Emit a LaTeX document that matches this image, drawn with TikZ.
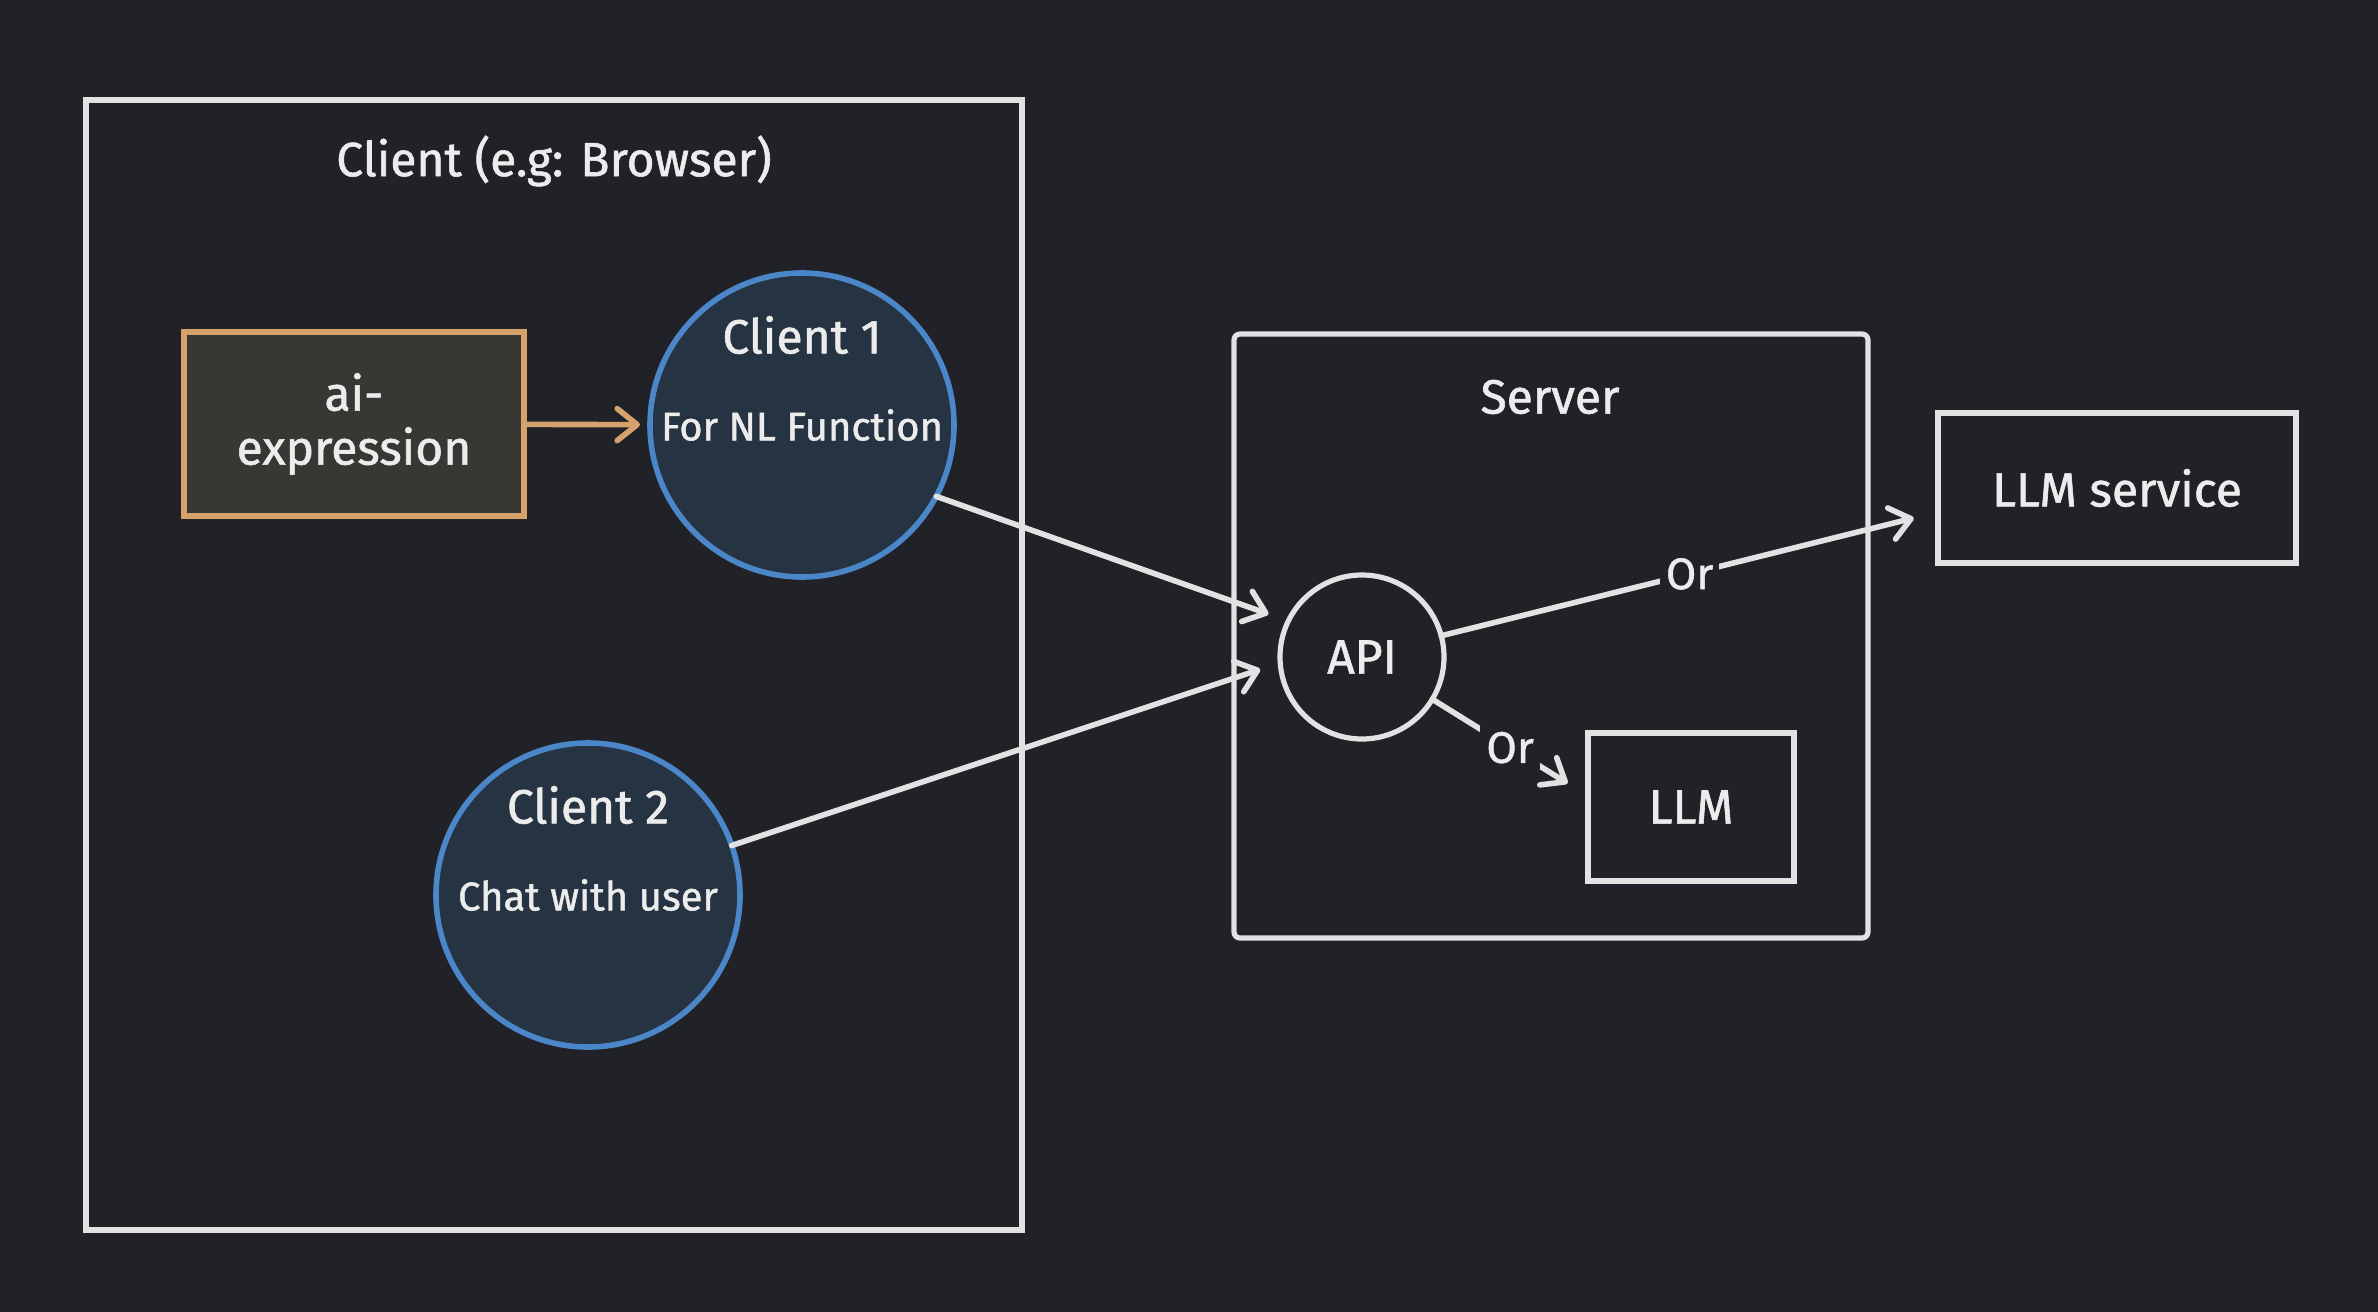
\documentclass[tikz,border=0pt]{standalone}
\usepackage{fontspec}
\setmainfont{Fira Sans}[FakeBold=1.2]
\usepackage{xcolor}
\usepackage{tikz}
\usetikzlibrary{arrows.meta}
\definecolor{bgdark}{RGB}{32,34,39}
\definecolor{linegray}{RGB}{226,226,226}
\definecolor{textgray}{RGB}{236,236,236}
\definecolor{circfill}{RGB}{38,51,66}
\definecolor{circblue}{RGB}{74,134,200}
\definecolor{tanline}{RGB}{212,162,106}
\definecolor{tanfill}{RGB}{57,55,51}

\begin{document}
\begin{tikzpicture}[x=0.5pt, y=-0.5pt,
  frame/.style={draw=linegray, line width=2.6pt, fill=bgdark, inner sep=0pt, outer sep=0pt},
  clientcirc/.style={circle, draw=circblue, line width=2.8pt, fill=circfill, inner sep=0pt, outer sep=0pt,
    minimum size=152pt, text=textgray, font=\fontsize{20}{24}\selectfont},
  lbl/.style={text=textgray, font=\fontsize{24}{27}\selectfont, align=center},
  orlbl/.style={fill=bgdark, text=textgray, font=\fontsize{22}{24}\selectfont, inner sep=3pt},
  flow/.style={draw=linegray, line width=2.8pt, line cap=round,
    -{Straight Barb[length=10pt, width=16pt, round]}}]
% Background
\fill[bgdark] (0,0) rectangle (2378,1312);

% Client side
\node[frame, minimum width=468pt, minimum height=565pt] (clientbox) at (554,665) {};
\node[lbl] (clienttitle) at (554,161) {Client (e.g: Browser)};
\node[frame, draw=tanline, fill=tanfill, minimum width=170pt, minimum height=92pt, lbl] (aiexpr) at (354,424) {ai-\\expression};
\node[clientcirc] (client1) at (802,425) {For NL Function};
\node[lbl] (client1title) at ([yshift=45pt]client1.center) {Client 1};
\node[clientcirc] (client2) at (588,895) {Chat with user};
\node[lbl] (client2title) at ([yshift=45pt]client2.center) {Client 2};

% Server side
\node[frame, rounded corners=3pt, minimum width=317pt, minimum height=302pt] (server) at (1551,636) {};
\node[lbl] (servertitle) at (1550,397) {Server};
\node[frame, circle, minimum size=82pt, lbl] (api) at (1362,657) {API};
\node[frame, minimum width=103pt, minimum height=74pt, lbl] (llm) at (1691,807) {LLM};
\node[frame, minimum width=179pt, minimum height=75pt, lbl] (llmsvc) at (2117,488) {LLM service};

% Connectors
\draw[flow, draw=tanline, shorten >=5pt] (aiexpr) -- (client1);
\draw[flow, shorten >=10.5pt] (client1.-28) -- (api.154);
\draw[flow, shorten >=10.5pt] (client2.19) -- (api.184);
\draw[flow, shorten >=12.5pt] (api.15) -- node[orlbl] {Or} ([yshift=-12pt]llmsvc.west);
\draw[flow, shorten >=12pt] (api.-31) -- node[orlbl] {Or} ([yshift=5.5pt]llm.west);
\end{tikzpicture}
\end{document}
